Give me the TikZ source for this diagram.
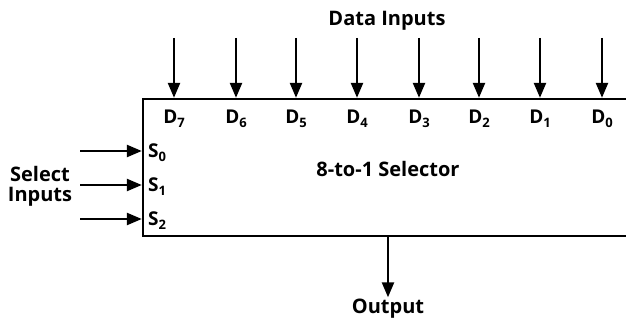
\documentclass[tikz,border=0pt]{standalone}
\usepackage{fontspec}
\setmainfont{Open Sans}
\usetikzlibrary{arrows.meta,calc}
\newcommand\lowsub[1]{\raisebox{-0.35ex}{\fontsize{13}{13}\selectfont #1}}
\tikzset{
  lbl/.style={font=\bfseries\fontsize{20}{20}\selectfont, inner sep=1pt},
  pin/.style={font=\bfseries\fontsize{19}{20}\selectfont, inner sep=0pt},
  arr/.style={line width=2.4pt, -{Triangle[length=15pt,width=12pt]}},
  boxstyle/.style={draw, line width=2.4pt, minimum width=520pt, minimum height=137pt, inner sep=0pt}
}
\begin{document}
\begin{tikzpicture}[x=1pt,y=-1pt]
\useasboundingbox (0,0) rectangle (626,320);
\clip (0,0) rectangle (626,320);
\node[boxstyle] (box) at (403,167.5) {};
\node[lbl, anchor=base] (title) at (387,26) {Data Inputs};
\node[lbl, anchor=base] (sel) at (388,177) {8-to-1 Selector};
\node[lbl, align=center] (selin) at (40,186) {Select\\Inputs};
\node[lbl, anchor=base] (out) at (388,313) {Output};
% data inputs
\foreach \x/\n in {174/7,236/6,296/5,357/4,419/3,479/2,540/1,602/0}{
  \coordinate (t\n) at (\x,38);
  \draw[arr] (t\n) -- (t\n |- box.north);
  \node[pin, anchor=base] (d\n) at (\x,124) {D\lowsub{\n}};
}
% select inputs
\foreach \y/\n in {151/0,185/1,219/2}{
  \coordinate (s\n) at (80,\y);
  \draw[arr] (s\n) -- (s\n -| box.west);
  \node[pin, anchor=base west] (sl\n) at (148,\y+7) {S\lowsub{\n}};
}
% output
\coordinate (o) at (388,236);
\draw[arr] (o |- box.south) -- (out.north);
\end{tikzpicture}
\end{document}
